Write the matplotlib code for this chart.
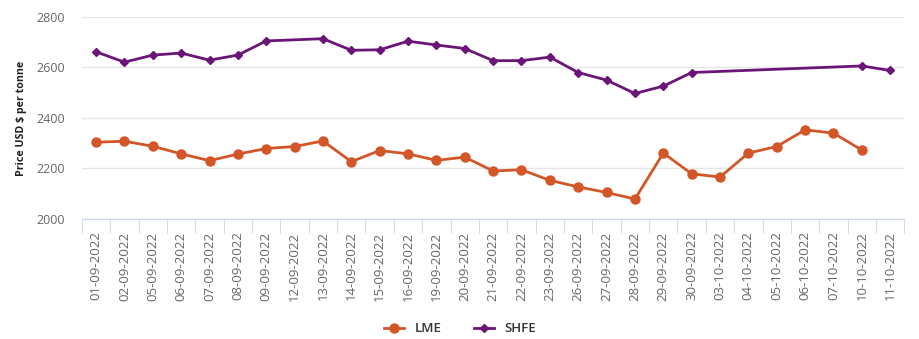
import numpy as np
import matplotlib.pyplot as plt
from matplotlib.lines import Line2D

plt.rcParams['font.family'] = ['Open Sans', 'DejaVu Sans']

dates = ['01-09-2022', '02-09-2022', '05-09-2022', '06-09-2022', '07-09-2022',
         '08-09-2022', '09-09-2022', '12-09-2022', '13-09-2022', '14-09-2022',
         '15-09-2022', '16-09-2022', '19-09-2022', '20-09-2022', '21-09-2022',
         '22-09-2022', '23-09-2022', '26-09-2022', '27-09-2022', '28-09-2022',
         '29-09-2022', '30-09-2022', '03-10-2022', '04-10-2022', '05-10-2022',
         '06-10-2022', '07-10-2022', '10-10-2022', '11-10-2022']

lme = [2304, 2308, 2288, 2258, 2231, 2257, 2279, 2287, 2309, 2227,
       2271, 2258, 2232, 2245, 2190, 2195, 2153, 2127, 2105, 2079,
       2261, 2179, 2166, 2261, 2287, 2353, 2340, 2273, None]

shfe = [2662, 2621, 2649, 2657, 2629, 2649, 2705, None, 2714, 2668,
        2670, 2704, 2689, 2675, 2627, 2627, 2641, 2580, 2550, 2497,
        2526, 2580, None, None, None, None, None, 2606, 2588]

lme_c = '#d25627'
shfe_c = '#6b1579'

fig = plt.figure(figsize=(9.2, 3.39), dpi=100)
ax = fig.add_axes([0.089, 0.354, 0.894, 0.596])

ind = np.arange(len(dates))

def points(vals):
    # skip the missing days, line joins across them
    idx = [i for i, v in enumerate(vals) if v is not None]
    return ind[idx], [vals[i] for i in idx]

x, y = points(lme)
ax.plot(x, y, '-o', c=lme_c, lw=2, ms=6.5, zorder=3)
x, y = points(shfe)
ax.plot(x, y, '-D', c=shfe_c, lw=2, ms=4.5, zorder=3)

ax.set_xlim(-0.5, len(dates) - 0.5)
ax.set_ylim(2000, 2800)
ax.set_yticks([2000, 2200, 2400, 2600, 2800])
ax.grid(axis='y', color='#e6e6e6', lw=1)
ax.set_axisbelow(True)

for s in ['top', 'right', 'left']:
    ax.spines[s].set_visible(False)
ax.spines['bottom'].set_color('#ccd6eb')

ax.set_xticks(ind)
ax.set_xticklabels(dates, rotation=90, fontsize=9.5, color='#666666')
ax.tick_params(axis='x', length=0, pad=9)
ax.set_xticks(np.arange(-0.5, len(dates), 1), minor=True)
ax.tick_params(axis='x', which='minor', length=10, color='#ccd6eb')
ax.tick_params(axis='y', length=0, labelsize=9, labelcolor='#666666', pad=12)

ax.set_ylabel('Price USD $ per tonne', fontsize=7.7, fontweight='bold',
              color='#222222', labelpad=7)

handles = [Line2D([], [], color=lme_c, marker='o', lw=2, ms=6.5),
           Line2D([], [], color=shfe_c, marker='D', lw=2, ms=4.5)]
fig.legend(handles, ['LME', 'SHFE'], loc='center', bbox_to_anchor=(0.5, 0.03),
           ncol=2, frameon=False, handlelength=1.5, columnspacing=2.5,
           prop={'size': 9.5, 'weight': 'semibold'}, labelcolor='#333333')

plt.savefig('out.png')
